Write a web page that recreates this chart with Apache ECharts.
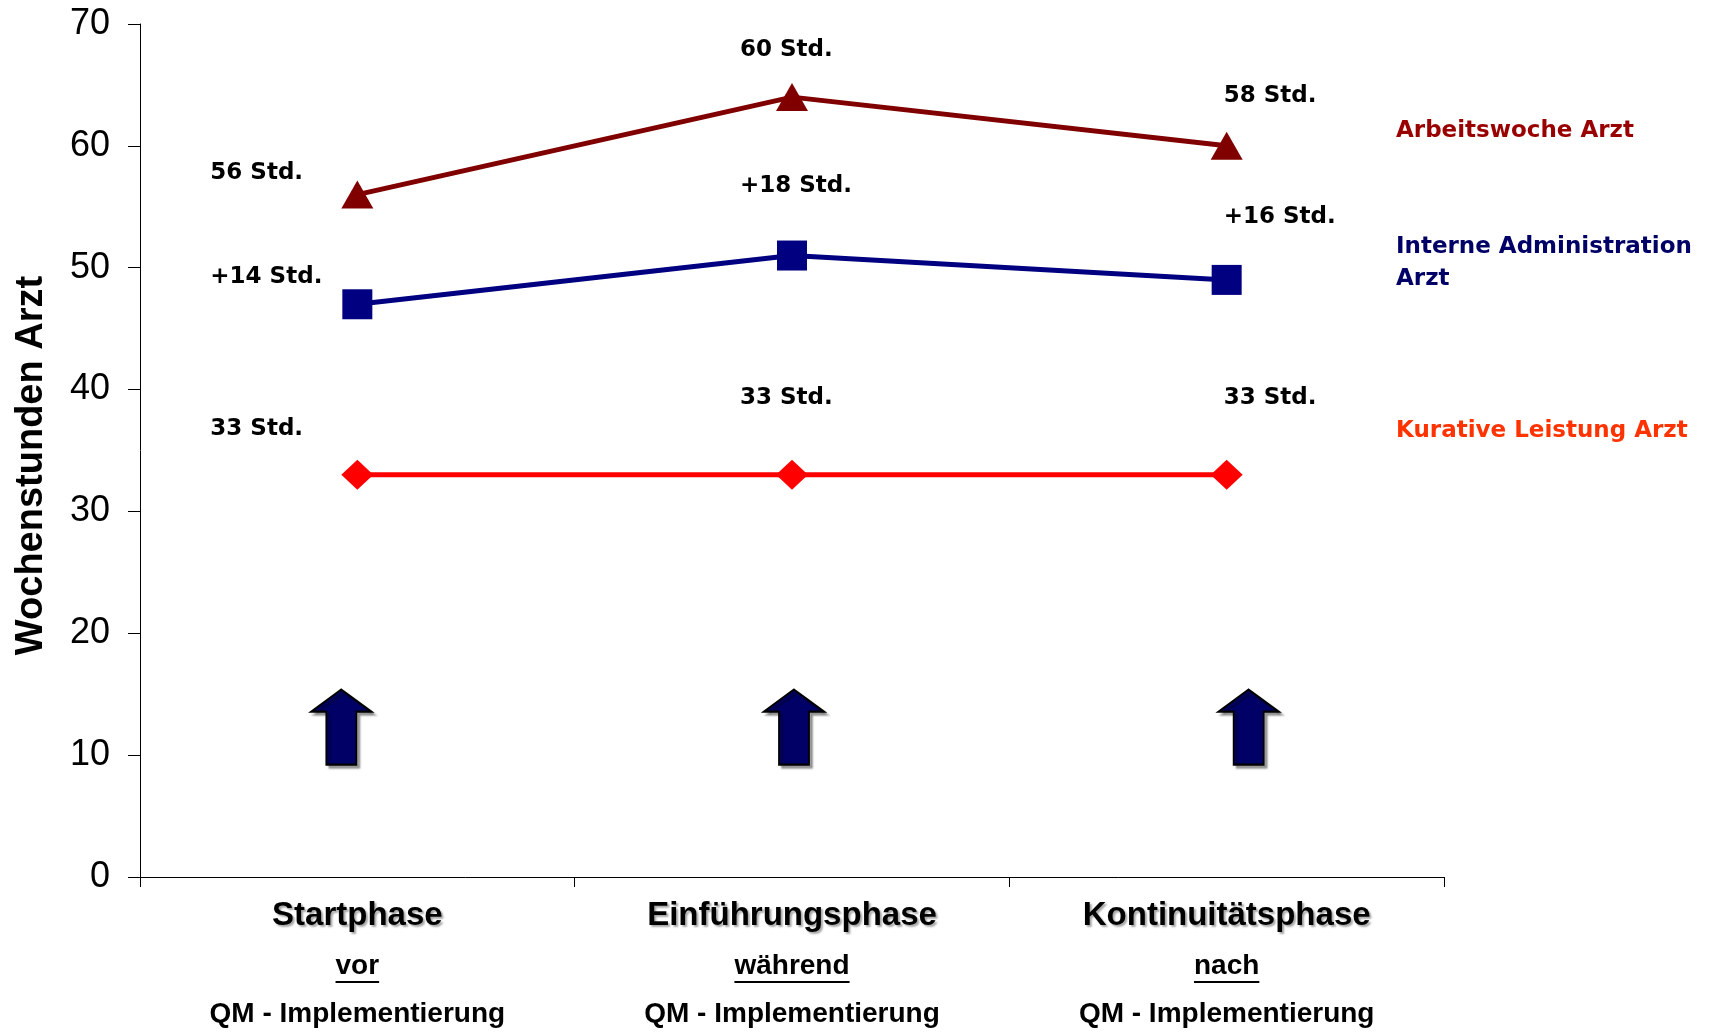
<!DOCTYPE html>
<html><head><meta charset="utf-8">
<script src="https://cdn.jsdelivr.net/npm/echarts@6/dist/echarts.min.js"></script>
<style>html,body{margin:0;padding:0;background:#fff}#c{width:1724px;height:1032px}</style>
</head><body><div id="c"></div>
<script>
// ---- data ----
const categories = ['Startphase', 'Einführungsphase', 'Kontinuitätsphase'];
const timing = ['vor', 'während', 'nach'];
const subLabel = 'QM - Implementierung';
const seriesNames = ['Arbeitswoche Arzt', 'Interne Administration\nArzt', 'Kurative Leistung Arzt'];
const arbeitswoche = [56, 64, 60];
const administration = [47, 51, 49];
const kurativ = [33, 33, 33];
const arbeitLabels = ['56 Std.', '60 Std.', '58 Std.'];
const adminLabels = ['+14 Std.', '+18 Std.', '+16 Std.'];
const kurativLabels = ['33 Std.', '33 Std.', '33 Std.'];
const arrowLevel = [12.3, 12.3, 12.3];
const yMin = 0, yMax = 70, yStep = 10;

// ---- layout / style ----
const labelDx = [-147, -52, -3];
const arbeitDy = [-22, -47, -50];
const adminDy = [-27, -69, -63];
const kurativDy = [-46, -77, -77];
const arrowDx = [-16, 2, 22];
const colors = { arbeit: '#800000', admin: '#000080', kur: '#ff0000' };
const textColors = ['#990000', '#000066', '#ff3300'];
const labelFont = { color: '#000', fontFamily: 'DejaVu Sans', fontWeight: 'bold', fontSize: 23 };

function mkData(vals, texts, dys) {
  return vals.map((v, i) => ({
    value: v,
    label: { offset: [labelDx[i], dys[i]], formatter: texts[i] }
  }));
}
function lineSeries(name, vals, texts, dys, color, symbol, size) {
  return {
    name: name, type: 'line', data: mkData(vals, texts, dys),
    symbol: symbol, symbolSize: size, showAllSymbol: true,
    lineStyle: { color: color, width: 5 },
    itemStyle: { color: color, opacity: 1 },
    label: Object.assign({ show: true, position: 'inside', align: 'left', verticalAlign: 'middle' }, labelFont),
    emphasis: { disabled: true },
    z: 3
  };
}

const chart = echarts.init(document.getElementById('c'), null, { renderer: 'canvas' });
const option = {
  animation: false,
  backgroundColor: '#fff',
  grid: { left: 140, right: 280, top: 24, bottom: 155, containLabel: false },
  xAxis: {
    type: 'category', data: categories, boundaryGap: true,
    axisLine: { lineStyle: { color: '#000', width: 1 } },
    axisTick: { show: true, length: 10, lineStyle: { color: '#000' } },
    axisLabel: {
      margin: 13, interval: 0,
      formatter: (v, i) => '{t|' + v + '}\n{u|' + timing[i] + '}\n{q|' + subLabel + '}',
      rich: {
        t: { fontFamily: 'Liberation Sans', fontWeight: 'bold', fontSize: 33, color: '#000', lineHeight: 52,
             textShadowColor: 'rgba(0,0,0,0.35)', textShadowOffsetX: 2, textShadowOffsetY: 2, textShadowBlur: 2 },
        u: { fontFamily: 'Liberation Sans', fontWeight: 'bold', fontSize: 28, color: '#000', lineHeight: 48 },
        q: { fontFamily: 'Liberation Sans', fontWeight: 'bold', fontSize: 28, color: '#000', lineHeight: 48 }
      }
    }
  },
  yAxis: {
    type: 'value', min: yMin, max: yMax, interval: yStep,
    axisLine: { show: true, lineStyle: { color: '#000', width: 1 } },
    axisTick: { show: true, length: 12, lineStyle: { color: '#000' } },
    splitLine: { show: false },
    axisLabel: { fontFamily: 'Liberation Sans', fontSize: 36, color: '#000', margin: 30 },
    name: 'Wochenstunden Arzt', nameLocation: 'middle', nameRotate: 90, nameGap: 89,
    nameTextStyle: { fontFamily: 'Liberation Sans', fontWeight: 'bold', fontSize: 38, color: '#000', padding: [0, 30, 0, 0] }
  },
  series: [
    lineSeries(seriesNames[0], arbeitswoche, arbeitLabels, arbeitDy, colors.arbeit, 'triangle', [32, 28]),
    lineSeries(seriesNames[1], administration, adminLabels, adminDy, colors.admin, 'rect', [30, 30]),
    lineSeries(seriesNames[2], kurativ, kurativLabels, kurativDy, colors.kur, 'diamond', [32, 30]),
    {
      name: 'arrows', type: 'scatter',
      data: arrowLevel.map((v, i) => ({ value: v, symbolOffset: [arrowDx[i], 0] })),
      symbol: 'path://M30,0 L60,22 L45,22 L45,75 L15,75 L15,22 L0,22 Z',
      symbolSize: [60, 75],
      itemStyle: { color: '#000066', opacity: 1, borderColor: '#000', borderWidth: 2,
                   shadowColor: 'rgba(0,0,0,0.35)', shadowOffsetX: 3, shadowOffsetY: 3, shadowBlur: 2 },
      emphasis: { disabled: true }, z: 2
    }
  ],
  graphic: []
};
chart.setOption(option);

// side labels and underlines
const g = [];
const tops = [115, 231, 415];
seriesNames.forEach((n, i) => {
  g.push({ type: 'text', left: 1396, top: tops[i], silent: true,
    style: { text: n, fill: textColors[i], font: 'bold 23px "DejaVu Sans"', lineHeight: 32 } });
});
const ctx = document.createElement('canvas').getContext('2d');
ctx.font = 'bold 28px "Liberation Sans"';
const axisY = chart.convertToPixel({ yAxisIndex: 0 }, yMin);
timing.forEach((t, i) => {
  const cx = chart.convertToPixel({ xAxisIndex: 0 }, i);
  const w = ctx.measureText(t).width;
  g.push({ type: 'line', silent: true,
    shape: { x1: cx - w / 2, y1: axisY + 105, x2: cx + w / 2, y2: axisY + 105 },
    style: { stroke: '#000', lineWidth: 2 } });
});
chart.setOption({ graphic: g });
</script>
</body></html>
